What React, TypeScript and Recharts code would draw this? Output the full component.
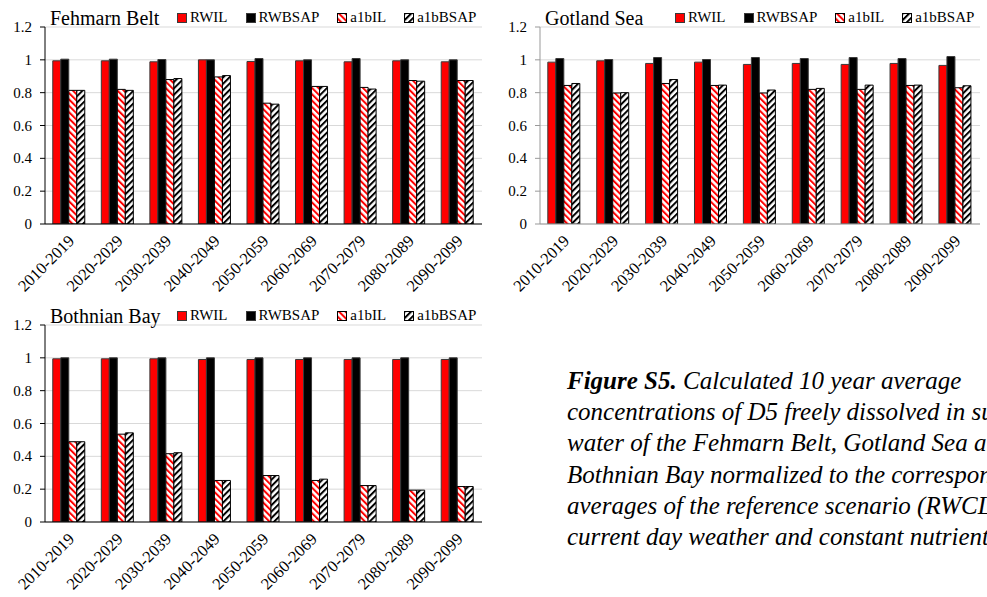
import React from "react";
import { BarChart, Bar, XAxis, YAxis, CartesianGrid } from "recharts";

const categories = [
  "2010-2019", "2020-2029", "2030-2039", "2040-2049", "2050-2059",
  "2060-2069", "2070-2079", "2080-2089", "2090-2099",
];

const fehmarnRWIL = [0.994, 0.994, 0.988, 1.0, 0.99, 0.994, 0.988, 0.994, 0.988];
const fehmarnRWBSAP = [1.004, 1.004, 1.002, 1.0, 1.008, 1.0, 1.008, 1.0, 1.0];
const fehmarnA1bIL = [0.814, 0.82, 0.88, 0.896, 0.736, 0.838, 0.832, 0.874, 0.874];
const fehmarnA1bBSAP = [0.814, 0.814, 0.886, 0.904, 0.73, 0.838, 0.822, 0.87, 0.874];

const gotlandRWIL = [0.986, 0.994, 0.978, 0.986, 0.972, 0.978, 0.972, 0.978, 0.966];
const gotlandRWBSAP = [1.008, 1.002, 1.014, 1.002, 1.014, 1.008, 1.014, 1.008, 1.02];
const gotlandA1bIL = [0.844, 0.798, 0.856, 0.844, 0.798, 0.82, 0.82, 0.844, 0.83];
const gotlandA1bBSAP = [0.856, 0.8, 0.88, 0.846, 0.816, 0.826, 0.846, 0.846, 0.842];

const bothnianRWIL = [0.994, 0.994, 0.994, 0.99, 0.99, 0.99, 0.99, 0.99, 0.99];
const bothnianRWBSAP = [1.0, 1.0, 1.0, 1.0, 1.0, 1.0, 1.0, 1.0, 1.0];
const bothnianA1bIL = [0.489, 0.535, 0.416, 0.253, 0.283, 0.253, 0.222, 0.194, 0.216];
const bothnianA1bBSAP = [0.489, 0.543, 0.422, 0.253, 0.283, 0.261, 0.222, 0.194, 0.216];

const majorTicks = [0, 0.2, 0.4, 0.6, 0.8, 1, 1.2];
const minorTicks = [
  0, 0.04, 0.08, 0.12, 0.16, 0.2, 0.24, 0.28, 0.32, 0.36, 0.4, 0.44, 0.48, 0.52,
  0.56, 0.6, 0.64, 0.68, 0.72, 0.76, 0.8, 0.84, 0.88, 0.92, 0.96, 1, 1.04, 1.08,
  1.12, 1.16, 1.2,
];

const seriesNames = ["RWIL", "RWBSAP", "a1bIL", "a1bBSAP"];

const captionLines = [
  "concentrations of D5 freely dissolved in surface",
  "water of the Fehmarn Belt, Gotland Sea and",
  "Bothnian Bay normalized to the corresponding",
  "averages of the reference scenario (RWCL,",
  "current day weather and constant nutrient loads).",
];

function buildRows(a: number[], b: number[], c: number[], d: number[]) {
  return categories.map((cat, i) => ({
    cat,
    RWIL: a[i],
    RWBSAP: b[i],
    a1bIL: c[i],
    a1bBSAP: d[i],
  }));
}

const FONT = '"Liberation Serif", "Times New Roman", serif';

const seriesStyle: Record<string, { fill: string; stroke: string }> = {
  RWIL: { fill: "#ff0000", stroke: "#3a3a3a" },
  RWBSAP: { fill: "#000000", stroke: "#3a3a3a" },
  a1bIL: { fill: "url(#hatchRed)", stroke: "#000000" },
  a1bBSAP: { fill: "url(#hatchBlack)", stroke: "#000000" },
};

const XTick = (props: any) => {
  const { x, y, payload } = props;
  return (
    <text
      x={0}
      y={0}
      transform={`translate(${x + 6},${y + 18}) rotate(-45)`}
      textAnchor="end"
      fontFamily={FONT}
      fontSize={16.5}
      fill="#000"
    >
      {payload.value}
    </text>
  );
};

const YTick = (props: any) => {
  const { x, y, payload } = props;
  return (
    <text x={x} y={y} dy={5} textAnchor="end" fontFamily={FONT} fontSize={15} fill="#000">
      {String(payload.value)}
    </text>
  );
};

const NoTick = () => <g />;

function Legend({ left }: { left: number }) {
  return (
    <div
      style={{
        position: "absolute",
        left,
        top: 10,
        display: "flex",
        alignItems: "center",
        fontFamily: FONT,
        fontSize: 15,
        lineHeight: "15px",
        whiteSpace: "nowrap",
      }}
    >
      {seriesNames.map((n) => (
        <div key={n} style={{ display: "flex", alignItems: "center", marginRight: 18 }}>
          <svg width={10} height={10} style={{ marginRight: 3 }}>
            <rect
              x={0.5}
              y={0.5}
              width={9}
              height={9}
              fill={seriesStyle[n].fill}
              stroke={seriesStyle[n].stroke}
              strokeWidth={1}
            />
          </svg>
          <span>{n}</span>
        </div>
      ))}
    </div>
  );
}

function Panel({
  title,
  rows,
  left,
  top,
  width,
  axisColor,
  legendLeft,
  rightMargin,
}: {
  title: string;
  rows: any[];
  left: number;
  top: number;
  width: number;
  axisColor: string;
  legendLeft: number;
  rightMargin: number;
}) {
  return (
    <div style={{ position: "absolute", left, top, width, height: 300 }}>
      <BarChart
        width={width}
        height={300}
        data={rows}
        margin={{ top: 27, right: rightMargin, left: 0, bottom: 0 }}
        barCategoryGap="16%"
        barGap={0}
      >
        <CartesianGrid vertical={false} stroke="#d9d9d9" strokeWidth={1} />
        <XAxis
          dataKey="cat"
          interval={0}
          tickLine={false}
          tickSize={0}
          tickMargin={0}
          height={76}
          axisLine={{ stroke: axisColor, strokeWidth: 1.2 }}
          tick={<XTick />}
        />
        <YAxis
          type="number"
          domain={[0, 1.2]}
          ticks={majorTicks}
          interval={0}
          width={45}
          tickSize={5}
          tickMargin={8}
          axisLine={{ stroke: axisColor }}
          tickLine={{ stroke: axisColor }}
          tick={<YTick />}
          allowDataOverflow
        />
        <YAxis
          yAxisId="minor"
          type="number"
          domain={[0, 1.2]}
          ticks={minorTicks}
          interval={0}
          width={0}
          mirror
          tickSize={5}
          axisLine={false}
          tickLine={{ stroke: axisColor }}
          tick={NoTick}
          allowDataOverflow
        />
        {seriesNames.map((n) => (
          <Bar
            key={n}
            dataKey={n}
            fill={seriesStyle[n].fill}
            stroke={seriesStyle[n].stroke}
            strokeWidth={1}
            isAnimationActive={false}
          />
        ))}
      </BarChart>
      <div
        style={{
          position: "absolute",
          left: 50,
          top: 8,
          fontFamily: FONT,
          fontSize: 20,
          lineHeight: "20px",
          whiteSpace: "nowrap",
        }}
      >
        {title}
      </div>
      <Legend left={legendLeft} />
    </div>
  );
}

export default function App() {
  return (
    <div
      style={{
        position: "absolute",
        left: 0,
        top: 0,
        width: 987,
        height: 597,
        overflow: "hidden",
        background: "#fff",
      }}
    >
      <svg width={0} height={0} style={{ position: "absolute" }}>
        <defs>
          <pattern
            id="hatchRed"
            patternUnits="userSpaceOnUse"
            width={4.5}
            height={4.5}
            patternTransform="rotate(-45)"
          >
            <rect width={4.5} height={4.5} fill="#ffffff" />
            <rect width={2} height={4.5} fill="#ff0000" />
          </pattern>
          <pattern
            id="hatchBlack"
            patternUnits="userSpaceOnUse"
            width={4.5}
            height={4.5}
            patternTransform="rotate(45)"
          >
            <rect width={4.5} height={4.5} fill="#ffffff" />
            <rect width={2} height={4.5} fill="#000000" />
          </pattern>
        </defs>
      </svg>
      <Panel
        title="Fehmarn Belt"
        rows={buildRows(fehmarnRWIL, fehmarnRWBSAP, fehmarnA1bIL, fehmarnA1bBSAP)}
        left={0}
        top={0}
        width={490}
        axisColor="#000"
        legendLeft={177}
        rightMargin={8}
      />
      <Panel
        title="Gotland Sea"
        rows={buildRows(gotlandRWIL, gotlandRWBSAP, gotlandA1bIL, gotlandA1bBSAP)}
        left={495}
        top={0}
        width={492}
        axisColor="#999"
        legendLeft={180}
        rightMargin={7}
      />
      <Panel
        title="Bothnian Bay"
        rows={buildRows(bothnianRWIL, bothnianRWBSAP, bothnianA1bIL, bothnianA1bBSAP)}
        left={0}
        top={298}
        width={490}
        axisColor="#000"
        legendLeft={177}
        rightMargin={8}
      />
      <div
        style={{
          position: "absolute",
          left: 567,
          top: 365,
          fontFamily: FONT,
          fontSize: 25,
          lineHeight: "31.2px",
          fontStyle: "italic",
          whiteSpace: "nowrap",
          color: "#000",
        }}
      >
        <div>
          <b>Figure S5.</b> Calculated 10 year average
        </div>
        {captionLines.map((l) => (
          <div key={l}>{l}</div>
        ))}
      </div>
    </div>
  );
}
